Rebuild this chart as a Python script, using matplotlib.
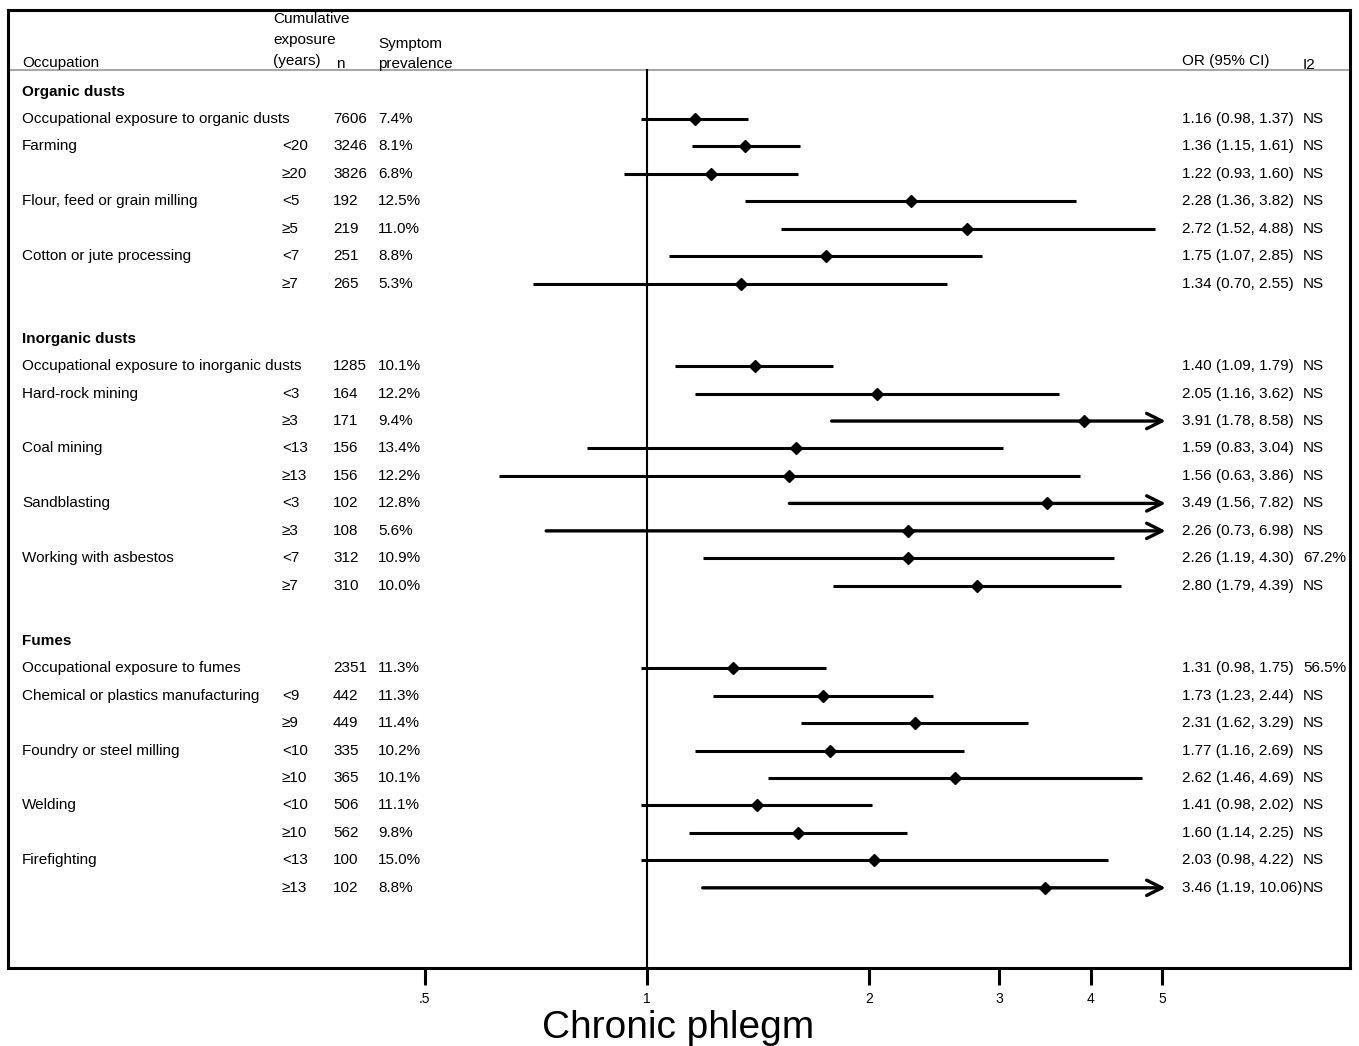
import matplotlib.pyplot as plt
import matplotlib.transforms as mtransforms

plt.rcParams['font.family'] = ['Liberation Sans', 'DejaVu Sans']

# one entry per table row, top to bottom ('' = empty cell, None = no estimate)
labels = ['Organic dusts', 'Occupational exposure to organic dusts', 'Farming', '',
          'Flour, feed or grain milling', '', 'Cotton or jute processing', '', '',
          'Inorganic dusts', 'Occupational exposure to inorganic dusts', 'Hard-rock mining', '',
          'Coal mining', '', 'Sandblasting', '', 'Working with asbestos', '', '',
          'Fumes', 'Occupational exposure to fumes', 'Chemical or plastics manufacturing', '',
          'Foundry or steel milling', '', 'Welding', '', 'Firefighting', '']
headings = ['Organic dusts', 'Inorganic dusts', 'Fumes']
years = ['', '', '<20', '≥20', '<5', '≥5', '<7', '≥7', '',
         '', '', '<3', '≥3', '<13', '≥13', '<3', '≥3', '<7', '≥7', '',
         '', '', '<9', '≥9', '<10', '≥10', '<10', '≥10', '<13', '≥13']
n = ['', '7606', '3246', '3826', '192', '219', '251', '265', '',
     '', '1285', '164', '171', '156', '156', '102', '108', '312', '310', '',
     '', '2351', '442', '449', '335', '365', '506', '562', '100', '102']
prevalence = ['', '7.4%', '8.1%', '6.8%', '12.5%', '11.0%', '8.8%', '5.3%', '',
              '', '10.1%', '12.2%', '9.4%', '13.4%', '12.2%', '12.8%', '5.6%', '10.9%', '10.0%', '',
              '', '11.3%', '11.3%', '11.4%', '10.2%', '10.1%', '11.1%', '9.8%', '15.0%', '8.8%']
odds = [None, 1.16, 1.36, 1.22, 2.28, 2.72, 1.75, 1.34, None,
        None, 1.40, 2.05, 3.91, 1.59, 1.56, 3.49, 2.26, 2.26, 2.80, None,
        None, 1.31, 1.73, 2.31, 1.77, 2.62, 1.41, 1.60, 2.03, 3.46]
ci_low = [None, 0.98, 1.15, 0.93, 1.36, 1.52, 1.07, 0.70, None,
          None, 1.09, 1.16, 1.78, 0.83, 0.63, 1.56, 0.73, 1.19, 1.79, None,
          None, 0.98, 1.23, 1.62, 1.16, 1.46, 0.98, 1.14, 0.98, 1.19]
ci_high = [None, 1.37, 1.61, 1.60, 3.82, 4.88, 2.85, 2.55, None,
           None, 1.79, 3.62, 8.58, 3.04, 3.86, 7.82, 6.98, 4.30, 4.39, None,
           None, 1.75, 2.44, 3.29, 2.69, 4.69, 2.02, 2.25, 4.22, 10.06]
i2 = ['', 'NS', 'NS', 'NS', 'NS', 'NS', 'NS', 'NS', '',
      '', 'NS', 'NS', 'NS', 'NS', 'NS', 'NS', 'NS', '67.2%', 'NS', '',
      '', '56.5%', 'NS', 'NS', 'NS', 'NS', 'NS', 'NS', 'NS', 'NS']

xticks = [0.5, 1, 2, 3, 4, 5]
xticklabels = ['.5', '1', '2', '3', '4', '5']
x_cap = 5

fig = plt.figure(figsize=(13.59, 10.46), dpi=100)
ax = fig.add_axes([8 / 1359, 1 - 968 / 1046, 1342 / 1359, 958 / 1046])
ax.set_xscale('log')
ax.set_xlim(0.136, 8.98)
ax.set_ylim(31.92, -2.97)

for s in ax.spines.values():
    s.set_linewidth(2.2)
ax.set_yticks([])
ax.set_xticks(xticks)
ax.set_xticklabels(xticklabels)
ax.minorticks_off()
ax.tick_params(axis='x', length=12, width=2.2, labelsize=10, pad=5)

# header rule and null line
ax.axhline(-0.78, color='#a8a8a8', lw=1.5)
ax.plot([1, 1], [-0.78, 31.92], color='black', lw=1.5)

for i in range(len(labels)):
    if odds[i] is None:
        continue
    if ci_high[i] > x_cap:
        ax.annotate('', xy=(x_cap * 1.01, i), xytext=(ci_low[i], i),
                    arrowprops=dict(arrowstyle='->,head_length=1.1,head_width=0.55',
                                    lw=2.4, color='black', shrinkA=0, shrinkB=0,
                                    mutation_scale=10))
    else:
        ax.plot([ci_low[i], ci_high[i]], [i, i], color='black', lw=2.2,
                solid_capstyle='butt')
    ax.plot(odds[i], i, marker='D', color='black', ms=6.5)

tr = mtransforms.blended_transform_factory(ax.transAxes, ax.transData)


def col(px):
    return (px - 8) / 1342


fs = 11
for i in range(len(labels)):
    w = 'bold' if labels[i] in headings else 'normal'
    ax.text(col(22), i, labels[i], transform=tr, fontsize=fs, va='center', fontweight=w)
    ax.text(col(282), i, years[i], transform=tr, fontsize=fs, va='center')
    ax.text(col(333), i, n[i], transform=tr, fontsize=fs, va='center')
    ax.text(col(378), i, prevalence[i], transform=tr, fontsize=fs, va='center')
    if odds[i] is not None:
        ax.text(col(1182), i, f'{odds[i]:.2f} ({ci_low[i]:.2f}, {ci_high[i]:.2f})',
                transform=tr, fontsize=fs, va='center')
    ax.text(col(1303), i, i2[i], transform=tr, fontsize=fs, va='center')

# column headers
ax.text(col(22), -1.04, 'Occupation', transform=tr, fontsize=fs, va='center')
ax.text(col(273), -2.64, 'Cumulative', transform=tr, fontsize=fs, va='center')
ax.text(col(273), -1.86, 'exposure', transform=tr, fontsize=fs, va='center')
ax.text(col(273), -1.12, '(years)', transform=tr, fontsize=fs, va='center')
ax.text(col(336), -1.0, 'n', transform=tr, fontsize=fs, va='center')
ax.text(col(378), -1.73, 'Symptom', transform=tr, fontsize=fs, va='center')
ax.text(col(378), -1.0, 'prevalence', transform=tr, fontsize=fs, va='center')
ax.text(col(1182), -1.1, 'OR (95% CI)', transform=tr, fontsize=fs, va='center')
ax.text(col(1303), -0.98, 'I2', transform=tr, fontsize=fs, va='center')

fig.text(678 / 1359, 1 - 1038 / 1046, 'Chronic phlegm', fontsize=28, ha='center',
         va='baseline')

fig.savefig('out.png', dpi=100)
